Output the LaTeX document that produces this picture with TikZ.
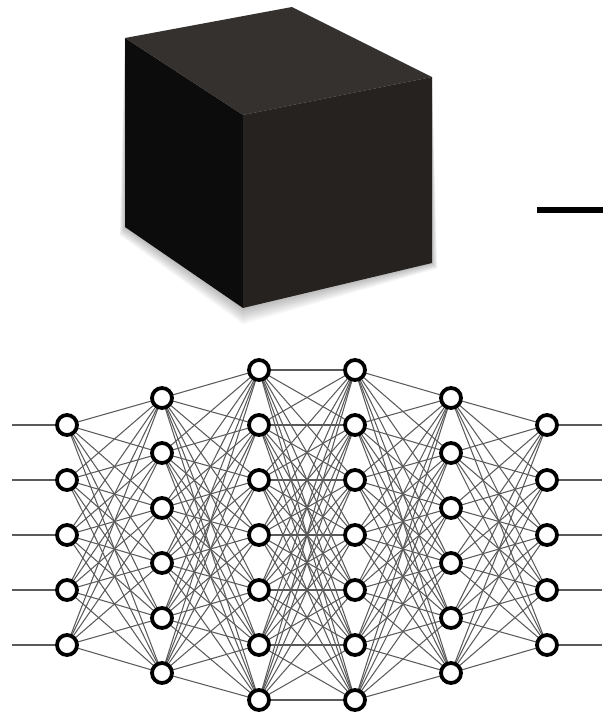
\documentclass[tikz,border=0pt]{standalone}
\usetikzlibrary{backgrounds,calc}
\definecolor{cubeleft}{HTML}{0C0C0C}
\definecolor{cuberight}{HTML}{262220}
\definecolor{cubetop}{HTML}{34312E}
\definecolor{wire}{HTML}{5A5A5A}
\begin{document}
\begin{tikzpicture}[x=1pt,y=-1pt,
  neuron/.style={circle,draw=black,line width=3.8pt,fill=white,minimum size=20pt,inner sep=0pt},
  synapse/.style={draw=wire,line width=1.05pt},
  lead/.style={draw=wire,line width=1.4pt},
  face/.style={line join=round}]
\useasboundingbox (0,0) rectangle (603,718);

% ---- cube ----
\coordinate (cback)  at (292,7);
\coordinate (ctl)    at (125,38);
\coordinate (cfront) at (243,115);
\coordinate (ctr)    at (432,77);
\coordinate (cbl)    at (125,227);
\coordinate (cbot)   at (243,308);
\coordinate (cbr)    at (432,263);

% soft shadow under the cube
\foreach \k in {2,4,...,16}
  \fill[black,opacity=0.035]
    (ctl) -- ($(cbl)+(-\k/3,\k/2)$) -- ($(cbot)+(0,\k)$) -- ($(cbr)+(\k/3,\k/3)$) -- (ctr) -- cycle;

\fill[cubeleft,face]  (ctl) -- (cfront) -- (cbot) -- (cbl) -- cycle;
\fill[cuberight,face] (cfront) -- (ctr) -- (cbr) -- (cbot) -- cycle;
\fill[cubetop,face]   (ctl) -- (cback) -- (ctr) -- (cfront) -- cycle;

% ---- dash on the right ----
\coordinate (dashL) at (537,210);
\coordinate (dashR) at (603,210);
\draw[black,line width=6.5pt] (dashL) -- (dashR);

% ---- network ----
\foreach \l/\x/\n/\y in {1/67/5/425, 2/162/6/398, 3/259/7/370, 4/355/7/370, 5/451/6/398, 6/547/5/425}
  \foreach \i in {1,...,\n}
    \node[neuron] (n\l-\i) at (\x,{\y+55*(\i-1)}) {};

\begin{scope}[on background layer]
  \foreach \a/\b/\na/\nb in {1/2/5/6, 2/3/6/7, 3/4/7/7, 4/5/7/6, 5/6/6/5}
    \foreach \i in {1,...,\na}
      \foreach \j in {1,...,\nb}
        \draw[synapse] (n\a-\i.center) -- (n\b-\j.center);
  \foreach \i in {1,...,5} {
    \coordinate (in\i)  at (12,{425+55*(\i-1)});
    \coordinate (out\i) at (602,{425+55*(\i-1)});
    \draw[lead] (in\i) -- (n1-\i.center);
    \draw[lead] (n6-\i.center) -- (out\i);
  }
\end{scope}
\end{tikzpicture}
\end{document}
